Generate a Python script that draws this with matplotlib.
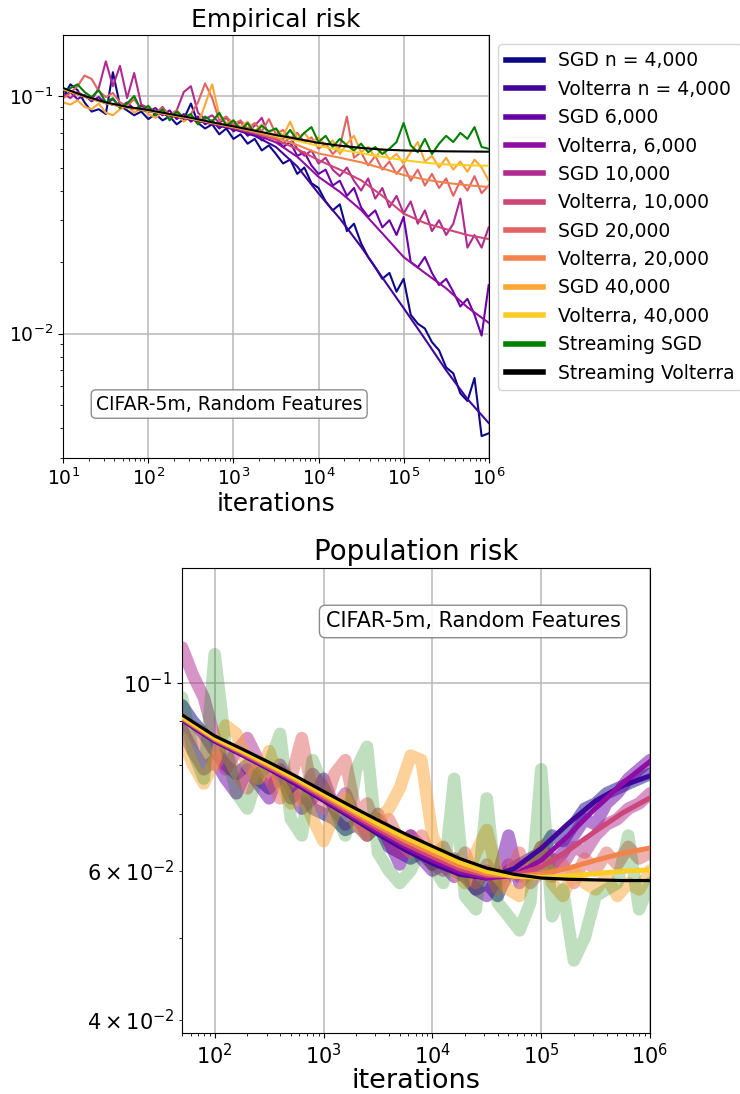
import numpy as np
import matplotlib
matplotlib.use("Agg")
import matplotlib.pyplot as plt

# ---------- checkpoints ----------
iters_emp = np.logspace(1, 6, 61)            # noisy SGD traces, empirical risk
iters_emp_smooth = np.logspace(1, 6, 21)     # Volterra predictions, empirical risk
iters_pop = np.logspace(1.7, 6, 44)          # noisy SGD traces, population risk
iters_pop_smooth = np.r_[50, np.logspace(2, 6, 17)]

sample_sizes = ["4,000", "6,000", "10,000", "20,000", "40,000"]
legend_labels = ["SGD n = 4,000", "Volterra n = 4,000",
                 "SGD 6,000", "Volterra, 6,000",
                 "SGD 10,000", "Volterra, 10,000",
                 "SGD 20,000", "Volterra, 20,000",
                 "SGD 40,000", "Volterra, 40,000",
                 "Streaming SGD", "Streaming Volterra"]

# ---------- empirical risk ----------
emp_sgd_4000 = [0.099, 0.112, 0.106, 0.094, 0.086, 0.088, 0.084, 0.126, 0.091, 0.087,
                0.083, 0.086, 0.080, 0.084, 0.079, 0.082, 0.076, 0.080, 0.093, 0.077,
                0.073, 0.076, 0.069, 0.073, 0.066, 0.069, 0.063, 0.066, 0.059, 0.062,
                0.057, 0.052, 0.054, 0.047, 0.050, 0.043, 0.041, 0.036, 0.033, 0.035,
                0.027, 0.029, 0.024, 0.021, 0.019, 0.017, 0.018, 0.015, 0.017, 0.012,
                0.011, 0.0105, 0.0092, 0.0085, 0.0072, 0.0068, 0.0056, 0.0052, 0.0065, 0.0037,
                0.0038]
emp_sgd_6000 = [0.100, 0.104, 0.097, 0.101, 0.095, 0.099, 0.093, 0.097, 0.090, 0.094,
                0.088, 0.091, 0.086, 0.089, 0.083, 0.087, 0.080, 0.084, 0.078, 0.082,
                0.076, 0.079, 0.073, 0.077, 0.071, 0.074, 0.068, 0.071, 0.065, 0.069,
                0.066, 0.061, 0.064, 0.056, 0.058, 0.051, 0.047, 0.049, 0.042, 0.044,
                0.038, 0.041, 0.034, 0.031, 0.033, 0.028, 0.030, 0.026, 0.031, 0.020,
                0.019, 0.021, 0.018, 0.016, 0.017, 0.015, 0.013, 0.014, 0.012, 0.0098,
                0.016]
emp_sgd_10000 = [0.102, 0.098, 0.104, 0.100, 0.096, 0.108, 0.140, 0.110, 0.134, 0.098,
                 0.125, 0.092, 0.089, 0.084, 0.090, 0.082, 0.087, 0.104, 0.110, 0.085,
                 0.080, 0.083, 0.077, 0.081, 0.074, 0.078, 0.071, 0.075, 0.081, 0.068,
                 0.066, 0.063, 0.067, 0.060, 0.056, 0.059, 0.052, 0.055, 0.049, 0.046,
                 0.050, 0.044, 0.040, 0.045, 0.037, 0.041, 0.034, 0.038, 0.032, 0.036,
                 0.029, 0.033, 0.027, 0.030, 0.026, 0.029, 0.037, 0.023, 0.026, 0.023,
                 0.028]
emp_sgd_20000 = [0.098, 0.103, 0.110, 0.122, 0.118, 0.105, 0.099, 0.103, 0.094, 0.091,
                 0.097, 0.088, 0.090, 0.085, 0.089, 0.083, 0.087, 0.081, 0.084, 0.094,
                 0.113, 0.098, 0.079, 0.082, 0.076, 0.079, 0.073, 0.077, 0.071, 0.080,
                 0.069, 0.072, 0.066, 0.070, 0.064, 0.067, 0.060, 0.063, 0.057, 0.061,
                 0.082, 0.055, 0.058, 0.051, 0.056, 0.049, 0.053, 0.047, 0.051, 0.044,
                 0.049, 0.042, 0.047, 0.041, 0.045, 0.038, 0.044, 0.040, 0.046, 0.039,
                 0.042]
emp_sgd_40000 = [0.094, 0.092, 0.096, 0.090, 0.088, 0.093, 0.085, 0.083, 0.088, 0.091,
                 0.085, 0.089, 0.084, 0.081, 0.086, 0.080, 0.084, 0.078, 0.082, 0.076,
                 0.092, 0.112, 0.083, 0.077, 0.079, 0.074, 0.078, 0.071, 0.076, 0.070,
                 0.073, 0.068, 0.078, 0.066, 0.070, 0.064, 0.067, 0.062, 0.065, 0.057,
                 0.063, 0.068, 0.058, 0.061, 0.055, 0.060, 0.054, 0.057, 0.052, 0.058,
                 0.064, 0.053, 0.056, 0.050, 0.055, 0.049, 0.053, 0.048, 0.054, 0.050,
                 0.044]
emp_stream_sgd = [0.104, 0.108, 0.112, 0.104, 0.099, 0.106, 0.094, 0.098, 0.089, 0.093,
                  0.100, 0.087, 0.091, 0.083, 0.088, 0.079, 0.086, 0.081, 0.084, 0.076,
                  0.082, 0.078, 0.085, 0.075, 0.079, 0.072, 0.077, 0.070, 0.075, 0.071,
                  0.073, 0.066, 0.072, 0.065, 0.070, 0.074, 0.064, 0.068, 0.061, 0.066,
                  0.062, 0.059, 0.063, 0.058, 0.061, 0.057, 0.060, 0.064, 0.077, 0.062,
                  0.058, 0.066, 0.057, 0.063, 0.068, 0.064, 0.070, 0.066, 0.074, 0.061,
                  0.060]

emp_volterra_4000 = [0.107, 0.0995, 0.0935, 0.0895, 0.0865, 0.0830, 0.0797, 0.0762, 0.0725, 0.0680,
                     0.0610, 0.0505, 0.0389, 0.0305, 0.0232, 0.0172, 0.0128, 0.0095, 0.0070, 0.0053,
                     0.0042]
emp_volterra_6000 = [0.107, 0.0995, 0.0935, 0.0895, 0.0866, 0.0832, 0.0800, 0.0765, 0.0730, 0.0690,
                     0.0638, 0.0555, 0.0457, 0.0395, 0.0331, 0.0264, 0.0210, 0.0180, 0.0155, 0.0129,
                     0.0111]
emp_volterra_10000 = [0.107, 0.0995, 0.0935, 0.0895, 0.0867, 0.0833, 0.0802, 0.0768, 0.0735, 0.0698,
                      0.0655, 0.0598, 0.0537, 0.0490, 0.0442, 0.0380, 0.0320, 0.0292, 0.0275, 0.0260,
                      0.0250]
emp_volterra_20000 = [0.107, 0.0995, 0.0935, 0.0895, 0.0868, 0.0835, 0.0804, 0.0770, 0.0740, 0.0706,
                      0.0668, 0.0622, 0.0573, 0.0550, 0.0526, 0.0496, 0.0465, 0.0445, 0.0431, 0.0421,
                      0.0414]
emp_volterra_40000 = [0.107, 0.0995, 0.0935, 0.0895, 0.0868, 0.0835, 0.0805, 0.0772, 0.0742, 0.0712,
                      0.0680, 0.0648, 0.0616, 0.0594, 0.0575, 0.0555, 0.0537, 0.0524, 0.0515, 0.0511,
                      0.0509]
emp_stream_volterra = [0.108, 0.100, 0.094, 0.090, 0.0873, 0.084, 0.081, 0.0775, 0.0745, 0.0715,
                       0.0685, 0.066, 0.0635, 0.0618, 0.0605, 0.0595, 0.059, 0.0587, 0.0585, 0.0584,
                       0.0583]

# ---------- population risk ----------
pop_sgd_4000 = [0.094, 0.090, 0.087, 0.083, 0.080, 0.078, 0.080, 0.077, 0.075, 0.078,
                0.073, 0.075, 0.071, 0.070, 0.069, 0.067, 0.068, 0.066, 0.068, 0.064,
                0.063, 0.062, 0.063, 0.061, 0.062, 0.060, 0.059, 0.057, 0.058, 0.056,
                0.060, 0.061, 0.062, 0.063, 0.066, 0.065, 0.068, 0.071, 0.072, 0.074,
                0.075, 0.076, 0.077, 0.078]
pop_sgd_6000 = [0.088, 0.083, 0.079, 0.081, 0.077, 0.074, 0.079, 0.076, 0.073, 0.079,
                0.075, 0.071, 0.073, 0.077, 0.071, 0.068, 0.070, 0.066, 0.069, 0.065,
                0.061, 0.066, 0.062, 0.060, 0.061, 0.059, 0.060, 0.057, 0.056, 0.059,
                0.066, 0.058, 0.060, 0.064, 0.061, 0.063, 0.066, 0.069, 0.068, 0.072,
                0.074, 0.077, 0.079, 0.081]
pop_sgd_10000 = [0.110, 0.102, 0.096, 0.086, 0.079, 0.083, 0.086, 0.081, 0.077, 0.080,
                 0.076, 0.073, 0.078, 0.075, 0.071, 0.074, 0.069, 0.067, 0.070, 0.065,
                 0.063, 0.066, 0.064, 0.061, 0.060, 0.062, 0.059, 0.058, 0.060, 0.058,
                 0.061, 0.059, 0.061, 0.060, 0.062, 0.061, 0.064, 0.063, 0.066, 0.068,
                 0.069, 0.071, 0.072, 0.074]
pop_sgd_20000 = [0.091, 0.087, 0.084, 0.080, 0.083, 0.078, 0.075, 0.080, 0.077, 0.073,
                 0.077, 0.086, 0.074, 0.071, 0.078, 0.081, 0.070, 0.072, 0.067, 0.069,
                 0.065, 0.063, 0.066, 0.062, 0.064, 0.060, 0.063, 0.058, 0.061, 0.057,
                 0.059, 0.063, 0.058, 0.060, 0.059, 0.061, 0.058, 0.062, 0.060, 0.063,
                 0.061, 0.064, 0.062, 0.063]
pop_sgd_40000 = [0.086, 0.080, 0.076, 0.081, 0.089, 0.087, 0.080, 0.077, 0.083, 0.076,
                 0.072, 0.074, 0.069, 0.065, 0.070, 0.073, 0.068, 0.066, 0.069, 0.071,
                 0.075, 0.082, 0.081, 0.066, 0.062, 0.060, 0.058, 0.063, 0.067, 0.059,
                 0.057, 0.056, 0.060, 0.064, 0.058, 0.056, 0.060, 0.058, 0.057, 0.059,
                 0.056, 0.058, 0.057, 0.060]
pop_stream_sgd = [0.096, 0.083, 0.077, 0.108, 0.084, 0.074, 0.071, 0.078, 0.080, 0.087,
                  0.069, 0.066, 0.081, 0.075, 0.071, 0.066, 0.079, 0.084, 0.063, 0.060,
                  0.058, 0.060, 0.064, 0.061, 0.058, 0.077, 0.056, 0.054, 0.073, 0.055,
                  0.053, 0.051, 0.055, 0.079, 0.053, 0.057, 0.047, 0.050, 0.056, 0.057,
                  0.058, 0.066, 0.054, 0.058]

pop_volterra_4000 = [0.0904, 0.0853, 0.0822, 0.0791, 0.0759, 0.0726, 0.0694, 0.0663, 0.0635,
                     0.0612, 0.0594, 0.0588, 0.0603, 0.0637, 0.0682, 0.0725, 0.0756, 0.0776]
pop_volterra_6000 = [0.0906, 0.0855, 0.0824, 0.0793, 0.0762, 0.0729, 0.0697, 0.0667, 0.0640,
                     0.0617, 0.0598, 0.0588, 0.0592, 0.0617, 0.0660, 0.0711, 0.0761, 0.0807]
pop_volterra_10000 = [0.0908, 0.0857, 0.0826, 0.0795, 0.0765, 0.0732, 0.0701, 0.0672, 0.0645,
                      0.0623, 0.0603, 0.0592, 0.0592, 0.0606, 0.0634, 0.0668, 0.0702, 0.0731]
pop_volterra_20000 = [0.0910, 0.0859, 0.0829, 0.0798, 0.0768, 0.0736, 0.0706, 0.0677, 0.0651,
                      0.0629, 0.0608, 0.0595, 0.0591, 0.0594, 0.0604, 0.0617, 0.0629, 0.0638]
pop_volterra_40000 = [0.0912, 0.0861, 0.0831, 0.0801, 0.0771, 0.0740, 0.0710, 0.0682, 0.0657,
                      0.0635, 0.0614, 0.0599, 0.0591, 0.0589, 0.0591, 0.0595, 0.0599, 0.0601]
pop_stream_volterra = [0.0916, 0.0865, 0.0835, 0.0805, 0.0775, 0.0744, 0.0715, 0.0688, 0.0663,
                       0.0641, 0.0620, 0.0604, 0.0594, 0.0588, 0.0586, 0.0585, 0.0584, 0.0584]

emp_sgd = [emp_sgd_4000, emp_sgd_6000, emp_sgd_10000, emp_sgd_20000, emp_sgd_40000]
emp_volterra = [emp_volterra_4000, emp_volterra_6000, emp_volterra_10000,
                emp_volterra_20000, emp_volterra_40000]
pop_sgd = [pop_sgd_4000, pop_sgd_6000, pop_sgd_10000, pop_sgd_20000, pop_sgd_40000]
pop_volterra = [pop_volterra_4000, pop_volterra_6000, pop_volterra_10000,
                pop_volterra_20000, pop_volterra_40000]

colors = plt.cm.plasma(np.linspace(0, 0.9, 10))

fig = plt.figure(figsize=(7.4, 10.94), dpi=100)
ax1 = fig.add_axes([0.0855, 0.5816, 0.5749, 0.3864])
ax2 = fig.add_axes([0.2459, 0.0558, 0.6325, 0.4250])

# ---------- top: empirical risk ----------
for i in range(len(sample_sizes)):
    ax1.plot(iters_emp, emp_sgd[i], color=colors[2 * i], lw=1.5,
             label=legend_labels[2 * i], zorder=2)
    ax1.plot(iters_emp_smooth, emp_volterra[i], color=colors[2 * i + 1], lw=1.5,
             label=legend_labels[2 * i + 1], zorder=3)
ax1.plot(iters_emp, emp_stream_sgd, color="green", lw=1.5, label=legend_labels[10], zorder=2)
ax1.plot(iters_emp_smooth, emp_stream_volterra, color="black", lw=1.5,
         label=legend_labels[11], zorder=4)

ax1.set_xscale("log")
ax1.set_yscale("log")
ax1.set_xlim(10, 1e6)
ax1.set_ylim(0.003, 0.1807)
ax1.grid(True, which="major", color="#b8b8b8", lw=1.1)
ax1.tick_params(labelsize=13.5)
ax1.set_title("Empirical risk", fontsize=18)
ax1.set_xlabel("iterations", fontsize=18, labelpad=2)
ax1.text(0.39, 0.127, "CIFAR-5m, Random Features", transform=ax1.transAxes,
         ha="center", va="center", fontsize=13.5, zorder=5,
         bbox=dict(boxstyle="round,pad=0.25", fc="white", ec="gray", alpha=0.9))

leg = ax1.legend(loc="upper left", bbox_to_anchor=(1.022, 0.979), borderaxespad=0,
                 fontsize=13.5, handlelength=2.0)
for line in leg.get_lines():
    line.set_linewidth(4)

# ---------- bottom: population risk ----------
for i in range(len(sample_sizes)):
    ax2.plot(iters_pop, pop_sgd[i], color=colors[2 * i], lw=9, alpha=0.5,
             solid_capstyle="round", solid_joinstyle="round", zorder=2)
for i in range(len(sample_sizes)):
    ax2.plot(iters_pop_smooth, pop_volterra[i], color=colors[2 * i + 1], lw=3.6, zorder=3)
ax2.plot(iters_pop, pop_stream_sgd, color="green", lw=9, alpha=0.25,
         solid_capstyle="round", solid_joinstyle="round", zorder=2)
ax2.plot(iters_pop_smooth, pop_stream_volterra, color="black", lw=2.3, zorder=4)

ax2.set_xscale("log")
ax2.set_yscale("log")
ax2.set_xlim(50, 1e6)
ax2.set_ylim(0.0386, 0.1365)
ax2.grid(True, which="major", color="#b8b8b8", lw=1.1)
ax2.tick_params(which="both", labelsize=15)
ax2.set_title("Population risk", fontsize=20)
ax2.set_xlabel("iterations", fontsize=19.5, labelpad=0)
ax2.text(0.622, 0.885, "CIFAR-5m, Random Features", transform=ax2.transAxes,
         ha="center", va="center", fontsize=15, zorder=5,
         bbox=dict(boxstyle="round,pad=0.3", fc="white", ec="gray", alpha=0.9))

fig.savefig("out.png", dpi=100)
